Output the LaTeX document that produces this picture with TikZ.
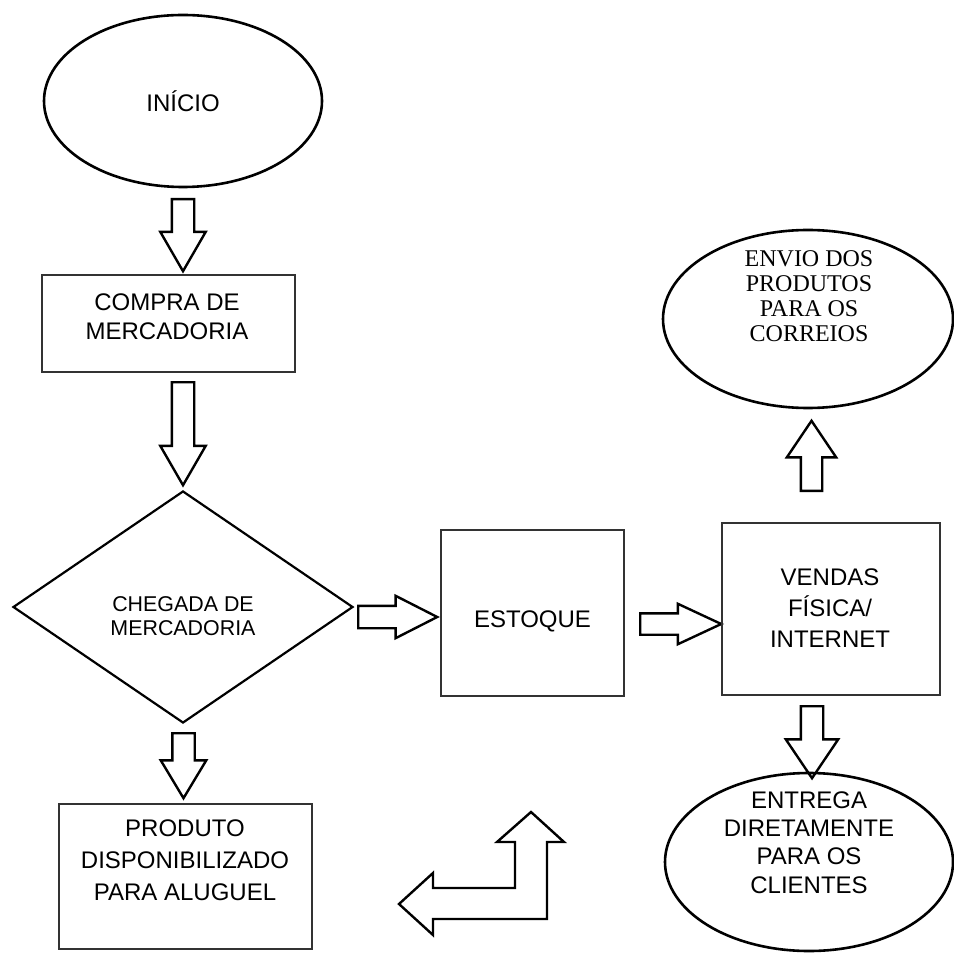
\documentclass[tikz,border=0pt]{standalone}
\usepackage{fontspec}
\setmainfont{Liberation Sans}
\newfontfamily\timesfont{Liberation Serif}
\usetikzlibrary{shapes.geometric,shapes.arrows}

\begin{document}
\begin{tikzpicture}[x=.5pt,y=-.5pt,
  oval/.style={ellipse,draw=black,line width=1.3pt,inner sep=0pt},
  losango/.style={diamond,draw=black,line width=1.1pt,inner sep=0pt},
  caixa/.style={rectangle,draw=black!80,line width=.7pt,inner sep=0pt},
  txt/.style={font=\fontsize{12}{15}\selectfont,align=center,inner sep=0pt},
  seta/.style={single arrow,draw=black,line width=1.2pt,fill=white,anchor=tail,
    inner xsep=0pt,inner ysep=5pt,single arrow head extend=5.75pt,single arrow tip angle=60}]
\useasboundingbox (0,0) rectangle (953,956);
\fill[white] (0,0) rectangle (953,956);

% COLUNA DA ESQUERDA
\node[oval,minimum width=139pt,minimum height=86pt,txt] (inicio) at (183,101) {INÍCIO};
\node[seta,rotate=-90,minimum height=36pt] (seta1) at (183,198) {};

\node[caixa,minimum width=126.5pt,minimum height=48.5pt] (compra) at (168.5,323.5) {};
\node[txt,font=\fontsize{12}{14.5}\selectfont] (compraTxt) at (167,316.5) {COMPRA DE\\MERCADORIA};
\node[seta,rotate=-90,minimum height=51.5pt] (seta2) at (183,381) {};

\node[losango,minimum width=170pt,minimum height=116pt] (chegada) at (183,607) {};
\node[txt,font=\fontsize{10.7}{12}\selectfont] (chegadaTxt) at (183,616.5) {CHEGADA DE\\MERCADORIA};
\node[seta,rotate=-90,minimum height=32.5pt,single arrow tip angle=62] (seta3) at (183.5,732) {};

\node[caixa,minimum width=126.5pt,minimum height=72.5pt] (produto) at (185.5,876.5) {};
\node[txt,font=\fontsize{12}{16}\selectfont] (produtoTxt) at (185,860) {PRODUTO\\DISPONIBILIZADO\\PARA ALUGUEL};

% LINHA DO ESTOQUE
\node[seta,minimum height=39.5pt,single arrow head extend=5pt,single arrow tip angle=54] (seta4) at (357,617) {};
\node[caixa,minimum width=91.5pt,minimum height=83pt] (estoque) at (532.5,613) {};
\node[txt] (estoqueTxt) at (532.5,621) {ESTOQUE};
\node[seta,minimum height=40.5pt,inner ysep=4.75pt,single arrow head extend=4.75pt,single arrow tip angle=50] (seta5) at (639,624) {};

% COLUNA DA DIREITA
\node[caixa,minimum width=109pt,minimum height=86pt] (vendas) at (831,609) {};
\node[txt,font=\fontsize{12}{15.5}\selectfont] (vendasTxt) at (830,608.5) {VENDAS\\FÍSICA/\\INTERNET};
\node[seta,rotate=90,minimum height=35pt,inner ysep=4.75pt,single arrow head extend=7pt,single arrow tip angle=68] (seta6) at (811.5,492) {};

\node[oval,minimum width=145pt,minimum height=89pt] (envio) at (808,319) {};
\node[txt,font=\timesfont\fontsize{12}{12.5}\selectfont] (envioTxt) at (809,296) {ENVIO DOS\\PRODUTOS\\PARA OS\\CORREIOS};

\node[seta,rotate=-90,minimum height=36pt,single arrow head extend=7.5pt,single arrow tip angle=68] (seta7) at (812,705) {};
\node[oval,minimum width=144pt,minimum height=89pt] (entrega) at (809,862) {};
\node[txt,font=\fontsize{12}{14.2}\selectfont] (entregaTxt) at (809,842.5) {ENTREGA\\DIRETAMENTE\\PARA OS\\CLIENTES};

% seta dobrada (retorno)
\draw[line width=1.2pt,line join=miter,fill=white] (531,812) -- (564,842) -- (547,842) -- (547,919) -- (433,919) -- (433,935)
  -- (399,904) -- (433,873) -- (433,888) -- (515,888) -- (515,842) -- (497,842) -- cycle;
\end{tikzpicture}
\end{document}
